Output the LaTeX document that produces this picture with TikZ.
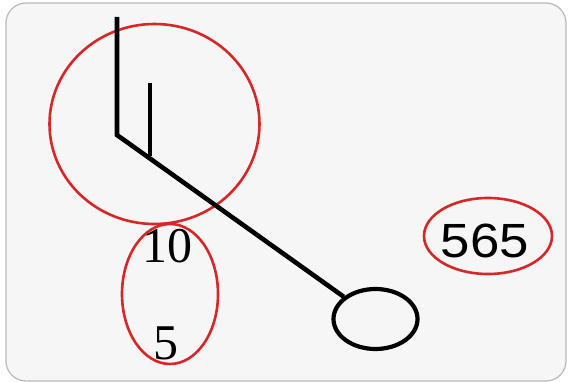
\documentclass[tikz,border=0pt]{standalone}
\usepackage{fontspec}
\usetikzlibrary{shapes.geometric}
\setmainfont{Liberation Serif}
\newfontfamily\numsans{Liberation Sans}
\definecolor{mark}{RGB}{214,40,40}
\definecolor{panel}{RGB}{246,246,246}
\tikzset{
  redring/.style={draw=mark, line width=2.6pt},
  stick/.style={draw=black, line width=4.6pt},
  numlabel/.style={inner sep=0pt, font=\fontsize{50}{50}\selectfont}
}
\begin{document}
\begin{tikzpicture}[x=1pt,y=-1pt]
\useasboundingbox (0,0) rectangle (568,382);
\fill[white] (0,0) rectangle (568,382);
\draw[fill=panel, draw=gray!55, line width=1.2pt, rounded corners=20pt] (6,3) rectangle (566,381);
% red marks
\draw[redring] (154.5,124) ellipse [x radius=105, y radius=100];
\draw[redring] (170,294) ellipse [x radius=48, y radius=70];
\draw[redring] (488,236) ellipse [x radius=64, y radius=38];
% figure
\coordinate (top1) at (117,17);
\coordinate (knee) at (117,135);
\coordinate (top2) at (150,83);
\coordinate (foot2) at (150,156);
\node[draw=black, line width=4.2pt, ellipse, minimum width=84pt, minimum height=60pt, inner sep=0pt] (head) at (375.5,319) {};
\draw[stick, line join=miter] (top1) -- (knee) -- (head.145);
\draw[stick] (top2) -- (foot2);
% labels
\node[numlabel] (ten) at (167,246) {10};
\node[numlabel] (five) at (166,343) {5};
\node[inner sep=0pt, font=\numsans\fontsize{48}{48}\selectfont, xscale=1.1] (big) at (485,241) {565};
\end{tikzpicture}
\end{document}
